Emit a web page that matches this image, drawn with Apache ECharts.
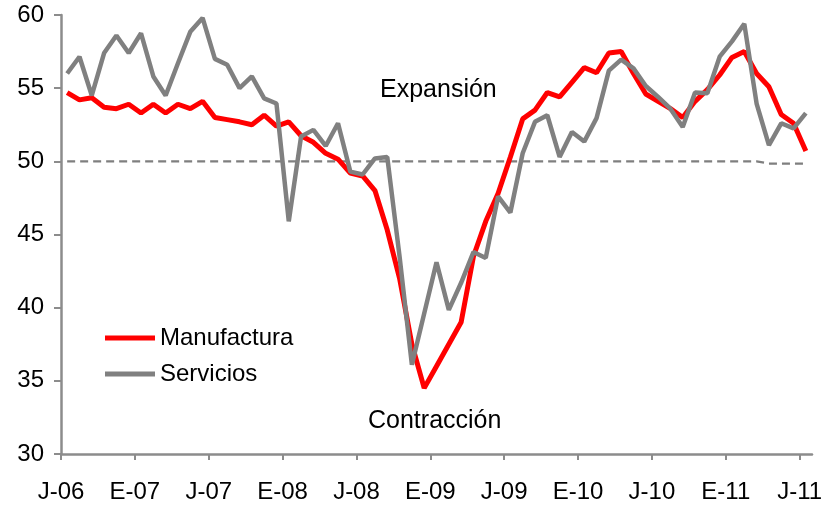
<!DOCTYPE html>
<html>
<head>
<meta charset="utf-8">
<script src="https://cdn.jsdelivr.net/npm/echarts@6/dist/echarts.min.js"></script>
<style>
    html, body { margin: 0; padding: 0; background: #fff; }
    #container { width: 830px; height: 508px; }
</style>
</head>
<body>
<div id="container"></div>
<script>
// etiquetas del eje x (cada 6 meses, jul-06 a jul-11)
var tickLabels = ['J-06', 'E-07', 'J-07', 'E-08', 'J-08', 'E-09', 'J-09', 'E-10', 'J-10', 'E-11', 'J-11'];

// indices mensuales, jul-06 ... jul-11 (61 meses)
var manufactura = [
    54.7, 54.2, 54.35, 53.7, 53.6, 53.9, 53.3, 53.9, 53.3, 53.9, 53.6, 54.1,
    53.0, 52.85, 52.7, 52.5, 53.15, 52.4, 52.7, 51.75, 51.3, 50.55, 50.15, 49.2,
    49.0, 48.0, 45.3, 42.0, 37.5, 34.5, 36.0, 37.5, 39.0, 43.5, 45.9, 47.8,
    50.3, 52.9, 53.5, 54.7, 54.4, 55.4, 56.4, 56.05, 57.4, 57.5, 56.0, 54.6,
    54.1, 53.6, 53.0, 54.1, 54.9, 55.9, 57.1, 57.5, 56.0, 55.1, 53.2, 52.6,
    50.7
];
var servicios = [
    56.0, 57.15, 54.5, 57.4, 58.6, 57.4, 58.75, 55.8, 54.5, 56.7, 58.85, 59.8,
    57.0, 56.6, 55.0, 55.8, 54.3, 53.95, 45.9, 51.7, 52.15, 51.05, 52.6, 49.3,
    49.1, 50.2, 50.3, 43.5, 36.1, 39.6, 43.1, 39.85, 41.7, 43.8, 43.4, 47.6,
    46.5, 50.55, 52.7, 53.15, 50.3, 52.0, 51.35, 52.95, 56.2, 56.95, 56.35, 55.15,
    54.4, 53.6, 52.35, 54.7, 54.65, 57.15, 58.2, 59.4, 53.95, 51.1, 52.6, 52.25,
    53.3
];
var umbral = [
    50, 50, 50, 50, 50, 50, 50, 50, 50, 50, 50, 50,
    50, 50, 50, 50, 50, 50, 50, 50, 50, 50, 50, 50,
    50, 50, 50, 50, 50, 50, 50, 50, 50, 50, 50, 50,
    50, 50, 50, 50, 50, 50, 50, 50, 50, 50, 50, 50,
    50, 50, 50, 50, 50, 50, 50, 50, 50, 49.85, 49.85, 49.85,
    49.85
];

// cada mes se dibuja en el centro de su banda
function toPoints(arr) {
    return arr.map(function (v, i) { return [i + 0.5, v]; });
}
var tickValues = tickLabels.map(function (t, i) { return i * 6; });

var myChart = echarts.init(document.getElementById('container'));
var font = 'Liberation Sans, Arial, sans-serif';
var axisGray = '#8c8c8c';

option = {
    animation: false,
    grid: { left: 61, right: 18, top: 15, bottom: 54 },
    legend: {
        data: ['Manufactura', 'Servicios'],
        orient: 'vertical',
        left: 100,
        top: 321,
        icon: 'rect',
        itemWidth: 50,
        itemHeight: 5,
        itemGap: 12,
        textStyle: { fontFamily: font, fontSize: 24, color: '#000' }
    },
    xAxis: {
        type: 'value',
        min: 0,
        max: 61,
        interval: 6,
        splitLine: { show: false },
        axisLine: { lineStyle: { color: axisGray, width: 2.5 } },
        axisTick: { show: true, length: 6, customValues: tickValues, lineStyle: { color: axisGray, width: 2 } },
        axisLabel: {
            customValues: tickValues,
            margin: 26,
            fontFamily: font,
            fontSize: 24,
            color: '#000',
            formatter: function (v) { return tickLabels[Math.round(v / 6)] || ''; }
        }
    },
    yAxis: {
        type: 'value',
        min: 30,
        max: 60,
        interval: 5,
        splitLine: { show: false },
        axisLine: { show: true, lineStyle: { color: axisGray, width: 2.5 } },
        axisTick: { show: true, length: 7, lineStyle: { color: axisGray, width: 2 } },
        axisLabel: { margin: 17, fontFamily: font, fontSize: 24, color: '#000' }
    },
    graphic: [
        { type: 'text', left: 380, top: 78, style: { text: 'Expansión', font: '25px ' + font, fill: '#000' } },
        { type: 'text', left: 368, top: 409, style: { text: 'Contracción', font: '25px ' + font, fill: '#000' } }
    ],
    series: [
        {
            name: 'Umbral',
            type: 'line',
            data: toPoints(umbral),
            symbol: 'none',
            silent: true,
            lineStyle: { color: '#7f7f7f', width: 2.2, type: [8, 5] },
            z: 1
        },
        {
            name: 'Manufactura',
            type: 'line',
            data: toPoints(manufactura),
            symbol: 'none',
            itemStyle: { color: '#ff0000' },
            lineStyle: { color: '#ff0000', width: 5 },
            z: 2
        },
        {
            name: 'Servicios',
            type: 'line',
            data: toPoints(servicios),
            symbol: 'none',
            itemStyle: { color: '#808080' },
            lineStyle: { color: '#808080', width: 4.5 },
            z: 3
        }
    ]
};
myChart.setOption(option);
</script>
</body>
</html>
